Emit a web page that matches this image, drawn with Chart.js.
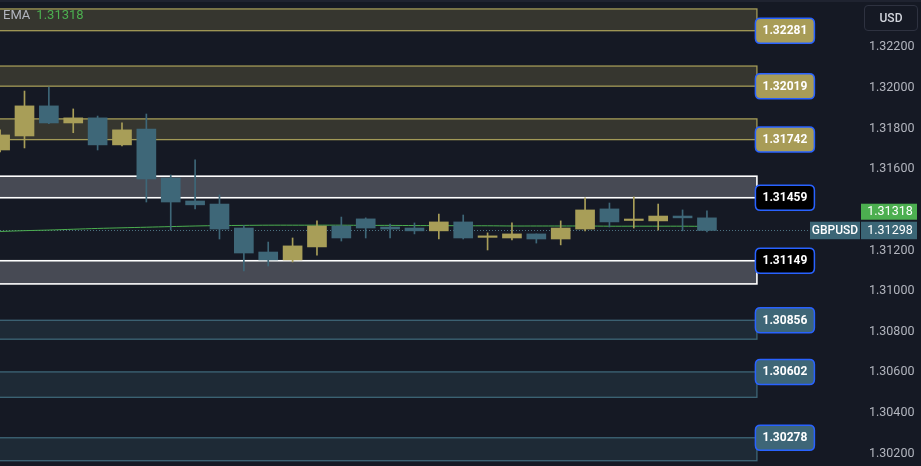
<!DOCTYPE html>
<html><head><meta charset="utf-8">
<script src="https://cdn.jsdelivr.net/npm/chart.js@4.4.0/dist/chart.umd.min.js"></script>
<style>
html,body{margin:0;padding:0;background:#151924;overflow:hidden}
#wrap{position:relative;width:921px;height:466px}
canvas{display:block}
#topbar{position:absolute;left:0;top:0;width:921px;height:2px;background:#1f2330}
#legend{position:absolute;left:3px;top:7px;font:13px Roboto,'Liberation Sans',Arial,sans-serif;color:#b2b5be}
#legend span{color:#4caf50;margin-left:6px}
#usd{position:absolute;left:864px;top:5px;width:52px;height:24px;border:1px solid #2e3240;border-radius:4px;color:#d1d4dc;font:500 12px Roboto,'Liberation Sans',Arial,sans-serif;text-align:center;line-height:24px;box-sizing:content-box}
</style></head>
<body><div id="wrap"><canvas id="c" width="921" height="466"></canvas>
<div id="topbar"></div><div id="legend">EMA<span>1.31318</span></div><div id="usd">USD</div></div>
<script>
// ---- data ----
const candleIndex = [0,1,2,3,4,5,6,7,8,9,10,11,12,13,14,15,16,17,18,19,20,21,22,23,24,25,26,27,28,29];
const openV  = [1.31694,1.31763,1.31911,1.31827,1.31852,1.31719,1.31797,1.31556,1.31443,1.31428,1.31310,1.31192,1.31153,1.31217,1.31320,1.31355,1.31315,1.31310,1.31296,1.31340,1.31264,1.31261,1.31281,1.31256,1.31305,1.31404,1.31347,1.31345,1.31369,1.31360];
const highV  = [1.31793,1.31984,1.32004,1.31896,1.31861,1.31827,1.31871,1.31571,1.31645,1.31473,1.31322,1.31241,1.31261,1.31345,1.31364,1.31360,1.31330,1.31335,1.31379,1.31374,1.31286,1.31335,1.31281,1.31345,1.31458,1.31433,1.31463,1.31428,1.31399,1.31394];
const lowV   = [1.31684,1.31704,1.31824,1.31779,1.31694,1.31714,1.31438,1.31300,1.31404,1.31256,1.31099,1.31123,1.31143,1.31177,1.31246,1.31261,1.31261,1.31281,1.31256,1.31256,1.31202,1.31251,1.31236,1.31227,1.31296,1.31315,1.31310,1.31300,1.31296,1.31291];
const closeV = [1.31768,1.31911,1.31827,1.31852,1.31719,1.31793,1.31551,1.31438,1.31424,1.31305,1.31187,1.31153,1.31222,1.31320,1.31261,1.31310,1.31305,1.31296,1.31340,1.31261,1.31266,1.31281,1.31256,1.31310,1.31399,1.31340,1.31350,1.31369,1.31360,1.31298];
const emaV   = [1.31293,1.31297,1.31300,1.31304,1.31308,1.31311,1.31314,1.31317,1.31320,1.31322,1.31323,1.31324,1.31324,1.31324,1.31324,1.31323,1.31323,1.31322,1.31322,1.31321,1.31321,1.31320,1.31320,1.31320,1.31320,1.31319,1.31319,1.31319,1.31319,1.31318];
const tickValues = [1.322,1.320,1.318,1.316,1.312,1.310,1.308,1.306,1.304,1.302];
const zoneLow    = [1.32281,1.32008,1.31745,1.31459,1.31035,1.30763,1.30477,1.30165];
const zoneHigh   = [1.32388,1.32107,1.31847,1.31565,1.31149,1.30856,1.30602,1.30278];
const zoneLabels = ['1.32281','1.32019','1.31742','1.31459','1.31149','1.30856','1.30602','1.30278'];
const zoneKinds  = ['resistance','resistance','resistance','range','range','support','support','support'];
const zoneEndX = 31.05;
const symbol = 'GBPUSD';
const lastPrice = 1.31298;
const emaLast = 1.31318;

// ---- styles ----
const UP = '#a89e58', DOWN = '#3e6778';
const zoneStyle = {
  resistance:{fill:'#36362f', line:'#a39a57', box:'#a89c57', lw:1.3},
  range:{fill:'#474a54', line:'#ffffff', box:'#000000', lw:1.6},
  support:{fill:'#1e2a36', line:'#3e6677', box:'#3e6677', lw:1.3}
};
const FONT = "Roboto, 'Liberation Sans', Arial, sans-serif";

function rr(ctx,x,y,w,h,r){ctx.beginPath();ctx.moveTo(x+r,y);ctx.lineTo(x+w-r,y);ctx.quadraticCurveTo(x+w,y,x+w,y+r);ctx.lineTo(x+w,y+h-r);ctx.quadraticCurveTo(x+w,y+h,x+w-r,y+h);ctx.lineTo(x+r,y+h);ctx.quadraticCurveTo(x,y+h,x,y+h-r);ctx.lineTo(x,y+r);ctx.quadraticCurveTo(x,y,x+r,y);ctx.closePath();}

const zonesPlugin = {
  id:'zones',
  beforeDatasetsDraw(chart){
    const {ctx, chartArea:a, scales:{x,y}} = chart;
    const xR = x.getPixelForValue(zoneEndX);
    ctx.save();
    zoneLow.forEach((lo,i)=>{
      const st = zoneStyle[zoneKinds[i]];
      const yT = y.getPixelForValue(zoneHigh[i]), yB = y.getPixelForValue(lo);
      ctx.fillStyle = st.fill; ctx.fillRect(a.left-2, yT, xR-a.left+2, yB-yT);
      ctx.strokeStyle = st.line; ctx.lineWidth = st.lw;
      ctx.strokeRect(a.left-3, yT, xR-a.left+3, yB-yT);
    });
    const yp = y.getPixelForValue(lastPrice);
    ctx.strokeStyle = '#4d7282'; ctx.lineWidth = 1; ctx.setLineDash([1,2]);
    ctx.beginPath(); ctx.moveTo(a.left, Math.round(yp)+0.5); ctx.lineTo(810, Math.round(yp)+0.5); ctx.stroke();
    ctx.restore();
  },
  afterDatasetsDraw(chart){
    const {ctx, scales:{x,y}} = chart;
    const xR = x.getPixelForValue(zoneEndX);
    ctx.save();
    ctx.font = 'bold 12px '+FONT; ctx.textAlign='center'; ctx.textBaseline='middle';
    zoneLow.forEach((lo,i)=>{
      const st = zoneStyle[zoneKinds[i]];
      const lv = parseFloat(zoneLabels[i]);
      const edge = Math.abs(lv-lo) < Math.abs(lv-zoneHigh[i]) ? lo : zoneHigh[i];
      const yc = y.getPixelForValue(edge);
      const bx = xR-1.5, bw = 59, bh = 25;
      rr(ctx,bx,yc-bh/2,bw,bh,5);
      ctx.fillStyle = st.box; ctx.fill();
      ctx.strokeStyle = '#2962ff'; ctx.lineWidth = 1.5; ctx.stroke();
      ctx.fillStyle = '#ffffff'; ctx.fillText(zoneLabels[i], bx+bw/2, yc+0.5);
    });
    ctx.restore();
  },
  afterDraw(chart){
    const {ctx, chartArea:a, scales:{y}} = chart;
    const yp = y.getPixelForValue(lastPrice);
    ctx.save();
    ctx.textAlign='center'; ctx.textBaseline='middle';
    const h = 17.5;
    const tTop = yp - h/2;
    ctx.fillStyle = '#3b6676'; ctx.fillRect(810, tTop, a.right-810, h);
    ctx.font = '500 12px '+FONT;
    ctx.fillStyle = '#ffffff'; ctx.fillText(symbol, (810+a.right)/2, yp+0.5);
    ctx.font = '12.5px '+FONT;
    ctx.fillStyle = '#3b6676'; ctx.fillRect(a.right+1, tTop, 56, h);
    ctx.fillStyle = '#ffffff'; ctx.fillText(lastPrice.toFixed(5), a.right+30, yp+0.5);
    const gB = tTop-2, gh = 16;
    ctx.fillStyle = '#4caf50'; ctx.fillRect(a.right+1, gB-gh, 56, gh);
    ctx.fillStyle = '#ffffff'; ctx.fillText(emaLast.toFixed(5), a.right+30, gB-gh/2+0.5);
    ctx.restore();
  }
};

const bodyData = candleIndex.map(i=>({x:i, y:[openV[i], closeV[i]]}));
const wickData = candleIndex.map(i=>({x:i, y:[lowV[i], highV[i]]}));
const colors = candleIndex.map(i=> closeV[i] >= openV[i] ? UP : DOWN);

new Chart(document.getElementById('c'), {
  data:{
    datasets:[
      {type:'line', label:'EMA', data:candleIndex.map(i=>({x:i,y:emaV[i]})), borderColor:'#4caf50', borderWidth:1, pointRadius:0, tension:0.3, order:3},
      {type:'bar', label:'wick', data:wickData, backgroundColor:colors, barThickness:1, grouped:false, borderWidth:0, order:2},
      {type:'bar', label:'body', data:bodyData, backgroundColor:colors, barThickness:19, grouped:false, borderWidth:0, minBarLength:1.5, order:1}
    ]
  },
  options:{
    responsive:false, devicePixelRatio:1, animation:false,
    layout:{padding:0},
    plugins:{legend:{display:false}, tooltip:{enabled:false}},
    scales:{
      x:{type:'linear', display:false, min:-0.005, max:35.28, offset:false},
      y:{type:'linear', position:'right', min:1.30139, max:1.32432,
         grid:{display:false, drawTicks:false}, border:{display:false},
         afterBuildTicks:(s)=>{ s.ticks = tickValues.map(v=>({value:v})); },
         afterFit:(s)=>{ s.width = 61; s.paddingTop = 0; s.paddingBottom = 0; },
         ticks:{padding:9, color:'#b2b5be', font:{family:FONT, size:12.5}, callback:(v)=>Number(v).toFixed(5)}
      }
    }
  },
  plugins:[zonesPlugin]
});
</script>
</body></html>
